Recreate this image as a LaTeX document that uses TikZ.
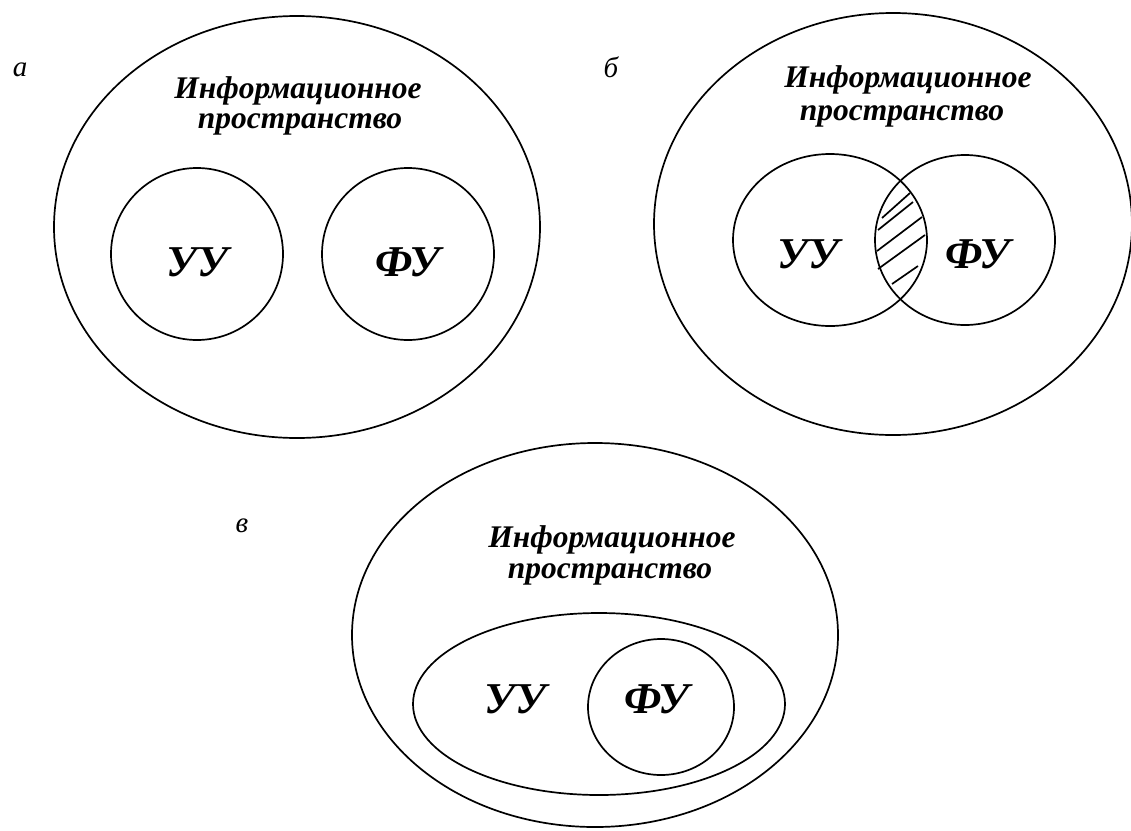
\documentclass[tikz,border=0pt]{standalone}
\usepackage{fontspec}
\setmainfont{Liberation Serif}
\begin{document}
\begin{tikzpicture}[x=1pt,y=-1pt,line width=1.7pt,
  title/.style={font=\fontsize{31.5}{34}\selectfont\bfseries\itshape,anchor=base,inner sep=0pt},
  setlabel/.style={font=\fontsize{44}{46}\selectfont\bfseries\itshape,inner sep=0pt},
  tag/.style={font=\fontsize{29}{30}\selectfont\itshape,inner sep=0pt},
  hatch/.style={line width=1.7pt}]
\useasboundingbox (0,0) rectangle (1131,830);
\begin{scope}
\clip (0,0) rectangle (1131,830);
% ---- a ----
\draw (297,227) ellipse [x radius=243pt, y radius=211pt];
\draw (197,254) circle [radius=86pt];
\draw (408,254) circle [radius=86pt];
% ---- b ----
\draw (893,224) ellipse [x radius=239pt, y radius=211pt];
\draw (830,240) ellipse [x radius=97pt, y radius=86pt];
\draw (965,240) ellipse [x radius=90pt, y radius=85pt];
% hatching in the intersection
\draw[hatch] (882,218) -- (910,193);
\draw[hatch] (878,230) -- (913,202);
\draw[hatch] (877,251) -- (922,217);
\draw[hatch] (878,269) -- (925,235);
\draw[hatch] (892,284) -- (918,266);
% ---- c ----
\draw (595,635) ellipse [x radius=243pt, y radius=192pt];
\draw (599,704) ellipse [x radius=186pt, y radius=91pt];
\draw (661,707) ellipse [x radius=73pt, y radius=68pt];
\end{scope}
% labels a
\node[tag] (la) at (20,70) {а};
\node[title] (ta1) at (298,98) {Информационное};
\node[title] (ta2) at (300,128) {пространство};
\node[setlabel] (uua) at (197,262) {УУ};
\node[setlabel] (fua) at (408,262) {ФУ};
% labels b
\node[tag] (lb) at (611,67) {б};
\node[title] (tb1) at (908,87) {Информационное};
\node[title] (tb2) at (902,120) {пространство};
\node[setlabel] (uub) at (808,254) {УУ};
\node[setlabel] (fub) at (978,254) {ФУ};
% labels c
\node[tag] (lc) at (242,526) {в};
\node[title] (tc1) at (612,547) {Информационное};
\node[title] (tc2) at (610,578) {пространство};
\node[setlabel] (uuc) at (515,699) {УУ};
\node[setlabel] (fuc) at (657,699) {ФУ};
\end{tikzpicture}
\end{document}
